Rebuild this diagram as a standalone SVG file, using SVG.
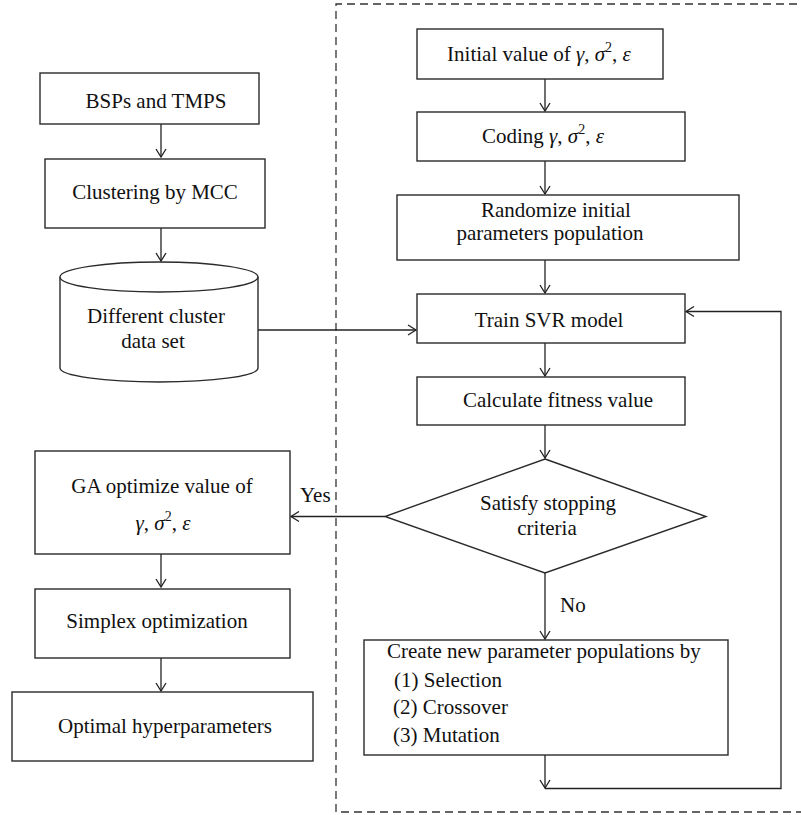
<svg xmlns="http://www.w3.org/2000/svg" width="801" height="815" viewBox="0 0 801 815">
<defs>
<style>
.box{fill:#fff;stroke:#2a2a2a;stroke-width:1.4}
.ln{fill:none;stroke:#222;stroke-width:1.3}
.dash{fill:none;stroke:#333;stroke-width:1.3;stroke-dasharray:8 5}
text{font-family:"Liberation Serif","Times New Roman",serif;font-size:21px;fill:#111}
.c{text-anchor:middle}
.i{font-style:italic}
.sup{font-size:14px}
</style>
<marker id="ah" markerWidth="12" markerHeight="12" refX="9" refY="6" orient="auto" markerUnits="userSpaceOnUse">
<path d="M1,1 L9,6 L1,11" fill="none" stroke="#222" stroke-width="1.3"/>
</marker>
</defs>
<rect width="801" height="815" fill="#fff"/>
<path class="dash" d="M810,4 L336,4 L336,812 L810,812"/>
<g id="connectors">
<line class="ln" x1="161" y1="124" x2="161" y2="157" marker-end="url(#ah)"/>
<line class="ln" x1="161" y1="228" x2="161" y2="261" marker-end="url(#ah)"/>
<line class="ln" x1="258" y1="330" x2="416" y2="330" marker-end="url(#ah)"/>
<line class="ln" x1="545" y1="79" x2="545" y2="111" marker-end="url(#ah)"/>
<line class="ln" x1="545" y1="161" x2="545" y2="194" marker-end="url(#ah)"/>
<line class="ln" x1="545" y1="260" x2="545" y2="293" marker-end="url(#ah)"/>
<line class="ln" x1="545" y1="343" x2="545" y2="376" marker-end="url(#ah)"/>
<line class="ln" x1="545" y1="425" x2="545" y2="458" marker-end="url(#ah)"/>
<line class="ln" x1="545" y1="573" x2="545" y2="639" marker-end="url(#ah)"/>
<line class="ln" x1="545" y1="755" x2="545" y2="788" marker-end="url(#ah)"/>
<path class="ln" d="M545,788.5 L781,788.5 L781,311.5 L686,311.5" marker-end="url(#ah)"/>
<line class="ln" x1="385" y1="516.5" x2="291" y2="516.5" marker-end="url(#ah)"/>
<line class="ln" x1="161" y1="554" x2="161" y2="587" marker-end="url(#ah)"/>
<line class="ln" x1="161" y1="658" x2="161" y2="691" marker-end="url(#ah)"/>
<text x="300" y="502">Yes</text>
<text x="560" y="612">No</text>
</g>
<g id="bsps">
<rect class="box" x="40" y="73" width="219" height="51"/>
<text class="c" x="156" y="108">BSPs and TMPS</text>
</g>
<g id="clustering">
<rect class="box" x="45" y="159" width="220" height="69"/>
<text class="c" x="155" y="199">Clustering by MCC</text>
</g>
<g id="dataset">
<path class="box" d="M60,277 L60,368 A99,14 0 0 0 258,368 L258,277 A99,15 0 0 0 60,277 Z"/>
<path class="box" d="M60,277 A99,15 0 0 0 258,277"/>
<text class="c" x="156" y="323">Different cluster</text>
<text class="c" x="153" y="348">data set</text>
</g>
<g id="initial">
<rect class="box" x="417" y="29" width="246" height="50"/>
<text class="c" x="539" y="61">Initial value of <tspan class="i">γ</tspan>, <tspan class="i">σ</tspan><tspan class="sup" dy="-9">2</tspan><tspan dy="9">, </tspan><tspan class="i">ε</tspan></text>
</g>
<g id="coding">
<rect class="box" x="417" y="112" width="268" height="49"/>
<text class="c" x="543" y="143">Coding <tspan class="i">γ</tspan>, <tspan class="i">σ</tspan><tspan class="sup" dy="-9">2</tspan><tspan dy="9">, </tspan><tspan class="i">ε</tspan></text>
</g>
<g id="randomize">
<rect class="box" x="397" y="195" width="342" height="65"/>
<text class="c" x="556" y="217">Randomize initial</text>
<text class="c" x="550" y="240">parameters population</text>
</g>
<g id="train">
<rect class="box" x="417" y="294" width="268" height="49"/>
<text class="c" x="549" y="327">Train SVR model</text>
</g>
<g id="fitness">
<rect class="box" x="417" y="377" width="268" height="48"/>
<text class="c" x="558" y="407">Calculate fitness value</text>
</g>
<g id="stopping">
<polygon class="box" points="545,459 706,516.5 545,573 385,516.5"/>
<text class="c" x="548" y="510">Satisfy stopping</text>
<text class="c" x="547" y="535">criteria</text>
</g>
<g id="create">
<rect class="box" x="364" y="640" width="364" height="115"/>
<text x="387" y="658">Create new parameter populations by</text>
<text x="394" y="687">(1) Selection</text>
<text x="393" y="714">(2) Crossover</text>
<text x="393" y="742">(3) Mutation</text>
</g>
<g id="ga">
<rect class="box" x="35" y="451" width="255" height="103"/>
<text class="c" x="162" y="493">GA optimize value of</text>
<text class="c" x="163" y="530"><tspan class="i">γ</tspan>, <tspan class="i">σ</tspan><tspan class="sup" dy="-9">2</tspan><tspan dy="9">, </tspan><tspan class="i">ε</tspan></text>
</g>
<g id="simplex">
<rect class="box" x="35" y="589" width="255" height="69"/>
<text class="c" x="157" y="628">Simplex optimization</text>
</g>
<g id="optimal">
<rect class="box" x="12" y="692" width="301" height="69"/>
<text class="c" x="165" y="733">Optimal hyperparameters</text>
</g>
</svg>
